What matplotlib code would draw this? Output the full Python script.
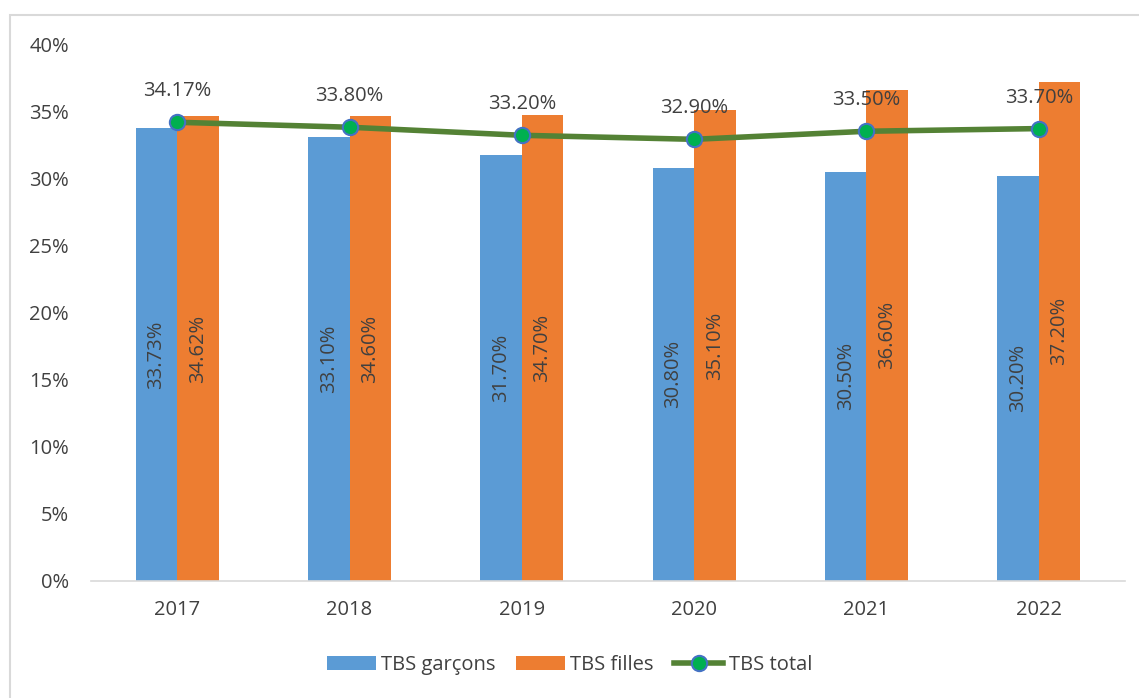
import matplotlib
matplotlib.use("Agg")
import matplotlib.pyplot as plt
import numpy as np
from matplotlib.patches import Rectangle

years = ["2017", "2018", "2019", "2020", "2021", "2022"]
garcons = [33.73, 33.10, 31.70, 30.80, 30.50, 30.20]
filles = [34.62, 34.60, 34.70, 35.10, 36.60, 37.20]
total = [34.17, 33.80, 33.20, 32.90, 33.50, 33.70]
yticks = [0, 5, 10, 15, 20, 25, 30, 35, 40]

plt.rcParams['font.family'] = ['Open Sans', 'DejaVu Sans']
tc = '#404040'
fs = 14.5

fig = plt.figure(figsize=(11.39, 6.98), dpi=100)
ax = fig.add_axes([91/1139, 1-581/698, (1125-91)/1139, (581-44)/698])

x = np.arange(len(years))
w = 0.24
b1 = ax.bar(x - w/2, garcons, w, color='#5B9BD5', label='TBS garçons')
b2 = ax.bar(x + w/2, filles, w, color='#ED7D31', label='TBS filles')
ln, = ax.plot(x, total, color='#548235', lw=4, marker='o', ms=11,
              markerfacecolor='#00B050', markeredgecolor='#4472C4', markeredgewidth=1.5,
              label='TBS total', zorder=5)

for i in range(len(x)):
    ax.text(x[i] - w/2, garcons[i]/2, f"{garcons[i]:.2f}%", rotation=90,
            ha='center', va='center', fontsize=fs, color=tc)
    ax.text(x[i] + w/2, filles[i]/2, f"{filles[i]:.2f}%", rotation=90,
            ha='center', va='center', fontsize=fs, color=tc)
    ax.annotate(f"{total[i]:.2f}%", (x[i], total[i]), xytext=(0, 15),
                textcoords='offset points', ha='center', va='bottom',
                fontsize=fs, color=tc)

ax.set_xlim(-0.5, len(years) - 0.5)
ax.set_ylim(0, 40)
ax.set_yticks(yticks)
ax.set_yticklabels([f"{v}%" for v in yticks])
ax.set_xticks(x)
ax.set_xticklabels(years)
ax.tick_params(axis='both', length=0, labelsize=fs, labelcolor=tc)
ax.tick_params(axis='y', pad=16)
ax.tick_params(axis='x', pad=14)
for s in ['top', 'right', 'left']:
    ax.spines[s].set_visible(False)
ax.spines['bottom'].set_color('#D9D9D9')
ax.spines['bottom'].set_linewidth(1.2)

leg = fig.legend(handles=[b1, b2, ln], loc='center', bbox_to_anchor=(0.5, 1-665/698), ncol=3,
                 frameon=False, fontsize=fs, handlelength=2.45, handleheight=0.75,
                 columnspacing=1.0, handletextpad=0.25)
for t in leg.get_texts():
    t.set_color(tc)

fig.patches.append(Rectangle((10/1139, -0.01), 1.2, 1-15/698 + 0.01, transform=fig.transFigure,
                             fill=False, edgecolor='#D9D9D9', lw=1.5))

fig.savefig('out.png', dpi=100)
